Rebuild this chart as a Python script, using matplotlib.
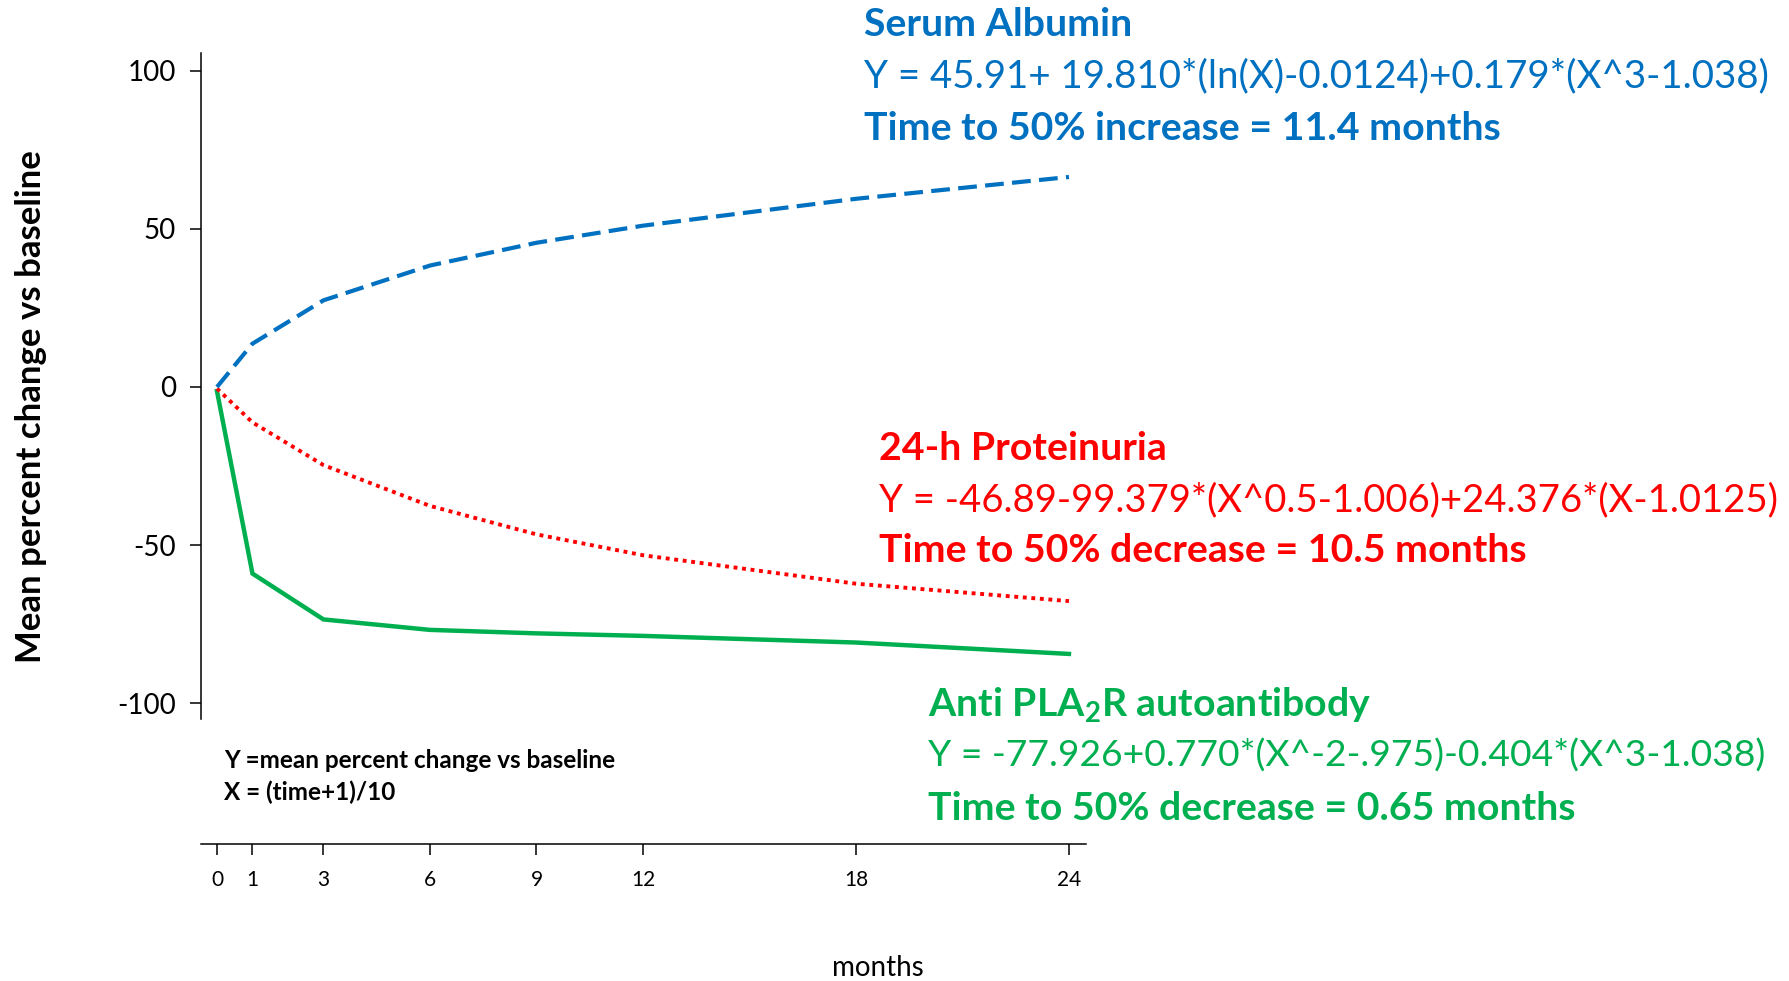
import numpy as np
import matplotlib
matplotlib.use("Agg")
import matplotlib.pyplot as plt

# Datos (cambio porcentual medio vs basal)
meses = [0, 1, 3, 6, 9, 12, 18, 24]
albumina = [0, 13.7, 27.4, 38.4, 45.6, 51.0, 59.5, 66.4]
proteinuria = [-0.5, -11.2, -24.7, -37.6, -46.6, -53.2, -62.2, -67.7]
anti_pla2r = [-1.3, -59.0, -73.5, -76.8, -77.9, -78.7, -80.8, -84.4]

y_ticks = [100, 50, 0, -50, -100]

azul = '#0070C0'
rojo = '#FF0000'
verde = '#00B050'

plt.rcParams['font.family'] = ['Lato', 'DejaVu Sans']
plt.rcParams['mathtext.fontset'] = 'custom'
plt.rcParams['mathtext.rm'] = 'Lato:bold'

W, H = 1789, 981
fig = plt.figure(figsize=(W / 100, H / 100), dpi=100)


def fx(px):
    return px / W


def fy(py):
    return 1 - py / H


ax = fig.add_axes([fx(201), fy(844), fx(1086) - fx(201), fy(53) - fy(844)])

ax.plot(meses, anti_pla2r, color=verde, lw=3.2, solid_joinstyle='miter')
ax.plot(meses, proteinuria, color=rojo, lw=2.8, linestyle=(0, (1.0, 1.2)))
ax.plot(meses, albumina, color=azul, lw=3.0, linestyle=(0, (4.5, 2.0)))

ax.set_xlim(-0.45, 24.48)
ax.set_ylim(-144.5, 105.6)

for s in ['top', 'right']:
    ax.spines[s].set_visible(False)
ax.spines['left'].set_bounds(-105, 105.6)
ax.spines['left'].set_linewidth(1.1)
ax.spines['bottom'].set_linewidth(1.1)

ax.set_yticks(y_ticks)
ax.set_yticklabels([str(v) for v in y_ticks])
ax.set_xticks(meses)
ax.set_xticklabels([str(m) for m in meses])
ax.tick_params(axis='y', length=8, width=1.1, labelsize=20, pad=10)
ax.tick_params(axis='x', length=8, width=1.1, labelsize=15, pad=11)

# Etiquetas de ejes
fig.text(fx(31), fy(407), 'Mean percent change vs baseline', rotation=90,
         ha='center', va='center', fontsize=25, fontweight='bold')
fig.text(fx(878), fy(968), 'months', ha='center', va='center', fontsize=20)

# Nota
fig.text(fx(224), fy(760), 'Y =mean percent change vs baseline', ha='left',
         va='center', fontsize=17.5, fontweight='bold')
fig.text(fx(224), fy(792), 'X = (time+1)/10', ha='left', va='center',
         fontsize=17.5, fontweight='bold')

# Ecuaciones: (x inicial, posiciones y, color, textos, tamano de la ecuacion)
bloques = [
    (864, [25, 76, 128], azul,
     ['Serum Albumin',
      'Y = 45.91+ 19.810*(ln(X)-0.0124)+0.179*(X^3-1.038)',
      'Time to 50% increase = 11.4 months'], 27.7),
    (879, [448, 500, 551], rojo,
     ['24-h Proteinuria',
      'Y = -46.89-99.379*(X^0.5-1.006)+24.376*(X-1.0125)',
      'Time to 50% decrease = 10.5 months'], 27.5),
    (928, [705, 756, 808], verde,
     [r'Anti PLA$_2$R autoantibody',
      'Y = -77.926+0.770*(X^-2-.975)-0.404*(X^3-1.038)',
      'Time to 50% decrease = 0.65 months'], 26.8),
]
for x0, ys, c, lineas, fs in bloques:
    for i, (yy, t) in enumerate(zip(ys, lineas)):
        if i == 1:
            fig.text(fx(x0), fy(yy), t, ha='left', va='center', color=c,
                     fontsize=fs)
        else:
            fig.text(fx(x0), fy(yy), t, ha='left', va='center', color=c,
                     fontsize=28.3, fontweight='bold')

fig.savefig('out.png', dpi=100)
